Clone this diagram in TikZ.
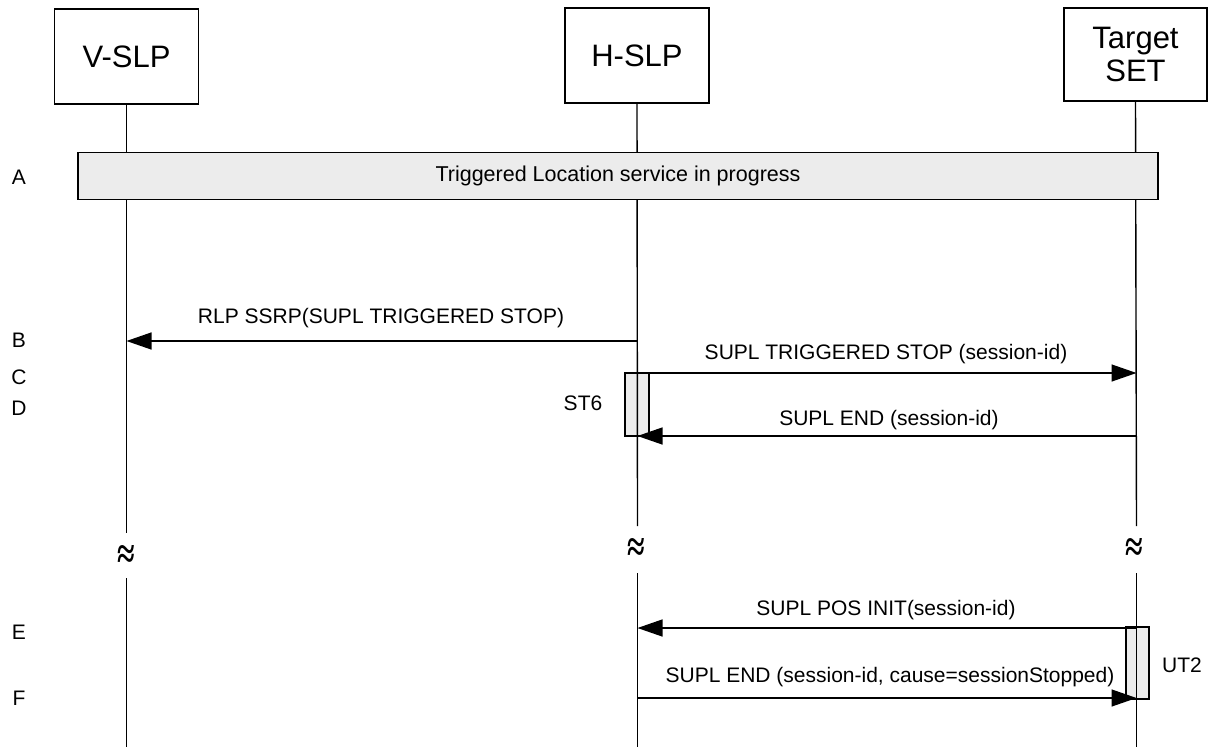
\documentclass[tikz,border=0pt]{standalone}
\usepackage{fontspec}
\setmainfont{Liberation Sans}
\newfontfamily\approxfont{Liberation Serif}
\usetikzlibrary{arrows.meta}
\tikzset{
  ent/.style={draw, line width=1.4pt, minimum width=144pt, minimum height=95pt,
    font=\fontsize{31}{33}\selectfont, align=center, inner sep=0pt},
  life/.style={line width=1.4pt},
  msg/.style={line width=1.4pt, -{Triangle[length=25pt,width=17pt]}},
  lbl/.style={font=\fontsize{21}{24}\selectfont, anchor=base, inner sep=0pt},
  act/.style={draw, line width=1.4pt, fill=gray!15, inner sep=0pt},
  bar/.style={draw, line width=1.4pt, fill=gray!15, inner sep=0pt,
    font=\fontsize{21.5}{24}\selectfont},
  brk/.style={font=\approxfont\bfseries\fontsize{32}{32}\selectfont, inner sep=0pt}
}
\begin{document}
\begin{tikzpicture}[x=1pt, y=-1pt]
\useasboundingbox (0,0) rectangle (1208,747);

% entities
\node[ent] (vslp) at (126.5,56.5) {V-SLP};
\node[ent] (hslp) at (637,55.5) {H-SLP};
\node[ent, minimum width=143pt, minimum height=93pt] (tset) at (1135.5,54.5) {Target\\SET};

% activation boxes
\node[act, minimum width=24pt, minimum height=63pt] (st6) at (637,404.5) {};
\node[act, minimum width=23pt, minimum height=72pt] (ut2) at (1137.5,663) {};

% lifeline coordinates
\coordinate (v1) at (126.5,533);
\coordinate (v2) at (126.5,578);
\coordinate (v3) at (126.5,747);
\coordinate (h1) at (637.5,526);
\coordinate (h2) at (637.5,573);
\coordinate (h3) at (637.5,747);
\coordinate (t1) at (1136.5,526);
\coordinate (t2) at (1136.5,573);
\coordinate (t3) at (1136.5,747);

\draw[life] (vslp.south) -- (v1);
\draw[life] (v2) -- (v3);
\draw[life] (hslp.south) -- (h1);
\draw[life] (h2) -- (h3);
\draw[life] (tset.south) -- (t1);
\draw[life] (t2) -- (t3);

% break marks
\node[brk] (bv) at (126,557) {\scalebox{1}[1.35]{≈}};
\node[brk] (bh) at (636,550) {\scalebox{1}[1.35]{≈}};
\node[brk] (bt) at (1134,550) {\scalebox{1}[1.35]{≈}};

% bar A
\node[bar, minimum width=1080pt, minimum height=47pt] (barA) at (618,176) {Triggered Location service in progress};

% step letters
\node[lbl, anchor=center] (lA) at (19,177) {A};
\node[lbl, anchor=center] (lB) at (19,340) {B};
\node[lbl, anchor=center] (lC) at (19,377) {C};
\node[lbl, anchor=center] (lD) at (19,408) {D};
\node[lbl, anchor=center] (lE) at (19,632) {E};
\node[lbl, anchor=center] (lF) at (19,698) {F};

% message end points
\coordinate (hB) at (637.5,341);
\coordinate (vB) at (126.5,341);
\coordinate (hC) at (637.5,373);
\coordinate (tC) at (1136.5,373);
\coordinate (tD) at (1136.5,436);
\coordinate (hD) at (637.5,436);
\coordinate (tE) at (1136.5,628);
\coordinate (hE) at (637.5,628);
\coordinate (hF) at (637.5,698);
\coordinate (tF) at (1136.5,698);

\draw[msg] (hB) -- (vB);
\draw[msg] (hC) -- (tC);
\draw[msg] (tD) -- (hD);
\draw[msg] (tE) -- (hE);
\draw[msg] (hF) -- (tF);

% message labels
\node[lbl] (mB) at (381,323) {RLP SSRP(SUPL TRIGGERED STOP)};
\node[lbl] (mC) at (886,359) {SUPL TRIGGERED STOP (session-id)};
\node[lbl] (mD) at (889,425) {SUPL END (session-id)};
\node[lbl] (mE) at (886,615) {SUPL POS INIT(session-id)};
\node[lbl] (mF) at (890,682) {SUPL END (session-id, cause=sessionStopped)};

% timer labels
\node[lbl] (tST6) at (583,410) {ST6};
\node[lbl] (tUT2) at (1182,672) {UT2};
\end{tikzpicture}
\end{document}
